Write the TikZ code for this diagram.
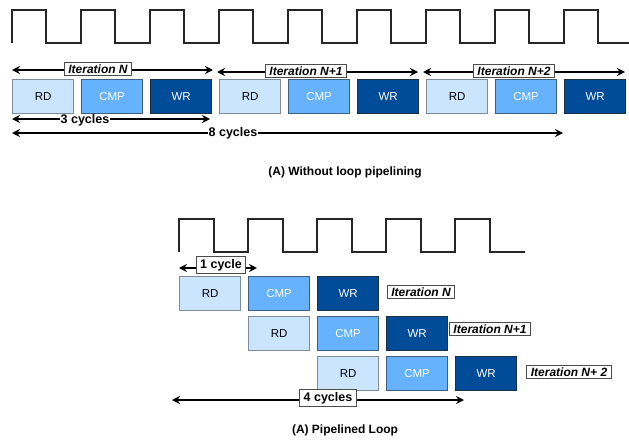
\documentclass[tikz,border=0pt]{standalone}
\usepackage{fontspec}
\setmainfont{Liberation Sans}
\usepackage{tikz}
\usetikzlibrary{arrows.meta}
\usetikzlibrary{calc}

\definecolor{rdfill}{HTML}{CCE5FF}
\definecolor{rdline}{HTML}{7F8C99}
\definecolor{cmpfill}{HTML}{66B2FF}
\definecolor{cmpline}{HTML}{3D5F82}
\definecolor{wrfill}{HTML}{004C99}
\definecolor{wrline}{HTML}{1D2F45}

\tikzset{
  stage/.style={minimum width=61pt, minimum height=34pt, inner sep=0pt,
    anchor=north west, line width=1.2pt, font=\fontsize{11.5}{13}\selectfont},
  rd/.style={stage, draw=rdline, fill=rdfill, text=black},
  cmp/.style={stage, draw=cmpline, fill=cmpfill, text=white},
  wr/.style={stage, draw=wrline, fill=wrfill, text=white},
  itlabel/.style={draw=black!70, fill=white, line width=0.9pt, inner xsep=4pt,
    inner ysep=2.5pt, font=\fontsize{12}{14}\selectfont\bfseries\itshape},
  cyclabel/.style={draw=black!70, fill=white, line width=0.9pt, inner xsep=4pt,
    inner ysep=2.5pt, font=\fontsize{12.5}{14}\selectfont\bfseries},
  cycnote/.style={fill=white, inner sep=0.5pt, font=\fontsize{12.5}{14}\selectfont\bfseries},
  span/.style={{Stealth[length=8pt,width=8pt]}-{Stealth[length=8pt,width=8pt]}, line width=1.4pt},
  clock/.style={line width=1.3pt, black!85},
  caption/.style={font=\fontsize{12}{14}\selectfont\bfseries}
}

\begin{document}
\begin{tikzpicture}[x=1pt, y=-1pt]
  \useasboundingbox (0,0) rectangle (629,442);

  % (A) without loop pipelining
  \draw [clock] (12,43) -- (12,10)
    \foreach \i in {0,...,7} {
      -- ++(34,0) -- ++(0,33) -- ++(35,0) -- ++(0,-33)
    }
    -- ++(34,0) -- ++(0,33) -- (629,43);

  \node [rd]  (rdA)  at (12,79)  {RD};
  \node [cmp] (cmpA) at (81,79)  {CMP};
  \node [wr]  (wrA)  at (150,79) {WR};
  \node [rd]  (rdB)  at (219,79) {RD};
  \node [cmp] (cmpB) at (288,79) {CMP};
  \node [wr]  (wrB)  at (357,79) {WR};
  \node [rd]  (rdC)  at (426,79) {RD};
  \node [cmp] (cmpC) at (495,79) {CMP};
  \node [wr]  (wrC)  at (564,79) {WR};

  \coordinate (itAl) at (12,70);
  \coordinate (itAr) at (213,70);
  \coordinate (itBl) at (217,72);
  \coordinate (itBr) at (418,72);
  \coordinate (itCl) at (423,72);
  \coordinate (itCr) at (625,72);
  \draw [span] (itAl) -- (itAr);
  \draw [span] (itBl) -- (itBr);
  \draw [span] (itCl) -- (itCr);
  \node [itlabel] (itA) at (98,69)  {Iteration N};
  \node [itlabel] (itB) at (306,71) {Iteration N+1};
  \node [itlabel] (itC) at (514,71) {Iteration N+2};

  \coordinate (threeL) at (12,119);
  \coordinate (threeR) at (210,119);
  \draw [span] (threeL) -- (threeR);
  \node [cycnote] (three) at (85,120) {3 cycles};
  \coordinate (eightL) at (12,133);
  \coordinate (eightR) at (563,133);
  \draw [span] (eightL) -- (eightR);
  \node [cycnote] (eight) at (233,133) {8 cycles};

  \node [caption] (capA) at (345,172) {(A) Without loop pipelining};

  % (A) pipelined loop
  \draw [clock] (179,252) -- (179,219)
    \foreach \i in {0,...,3} {
      -- ++(35,0) -- ++(0,33) -- ++(34,0) -- ++(0,-33)
    }
    -- ++(35,0) -- ++(0,33) -- (525,252);

  \node [rd]  (rd1)  at (179,276) {RD};
  \node [cmp] (cmp1) at (248,276) {CMP};
  \node [wr]  (wr1)  at (317,276) {WR};
  \node [rd]  (rd2)  at (248,316) {RD};
  \node [cmp] (cmp2) at (317,316) {CMP};
  \node [wr]  (wr2)  at (386,316) {WR};
  \node [rd]  (rd3)  at (317,356) {RD};
  \node [cmp] (cmp3) at (386,356) {CMP};
  \node [wr]  (wr3)  at (455,356) {WR};

  \node [itlabel] (it1) at (421,292) {Iteration N};
  \node [itlabel] (it2) at (490,329) {Iteration N+1};
  \node [itlabel] (it3) at (569,372) {Iteration N+ 2};

  \coordinate (oneL) at (179,268);
  \coordinate (oneR) at (257,268);
  \draw [span] (oneL) -- (oneR);
  \node [cyclabel] (one) at (221,265) {1 cycle};

  \coordinate (fourL) at (172,400);
  \coordinate (fourR) at (464,400);
  \draw [span] (fourL) -- (fourR);
  \node [cyclabel] (four) at (328,398) {4 cycles};

  \node [caption] (capB) at (345,430) {(A) Pipelined Loop};
\end{tikzpicture}
\end{document}
